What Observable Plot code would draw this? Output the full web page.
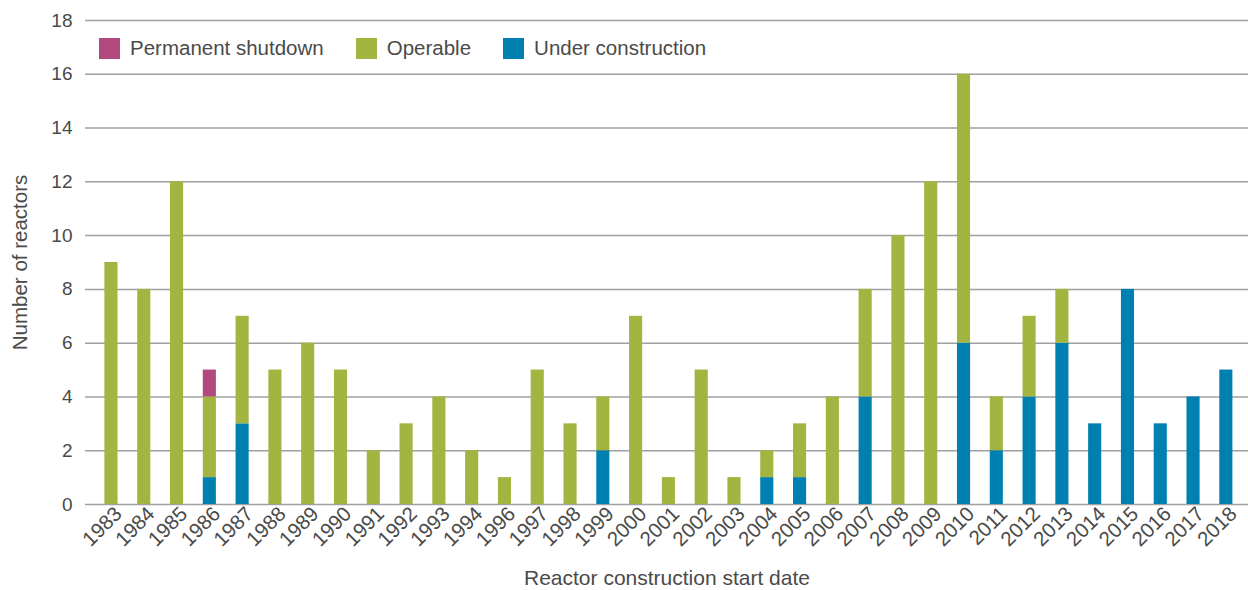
<!DOCTYPE html>
<html>
<head>
<meta charset="utf-8">
<script src="https://cdn.jsdelivr.net/npm/d3@7"></script>
<script src="https://cdn.jsdelivr.net/npm/@observablehq/plot@0.6"></script>
<style>
  html, body { margin: 0; padding: 0; background: #fff; }
  #wrap { position: relative; width: 1248px; height: 590px; font-family: "Liberation Sans", Arial, sans-serif; color: #4a4a4a; }
  #legend { position: absolute; left: 99px; top: 36px; display: flex; align-items: center; font-size: 20.5px; }
  #legend .item { display: flex; align-items: center; margin-right: 32px; }
  #legend .sw { width: 21px; height: 21px; margin-right: 10px; }
  svg text { fill: #4a4a4a; }
</style>
</head>
<body>
<div id="wrap"><div id="legend"></div></div>
<script>
const years = ["1983","1984","1985","1986","1987","1988","1989","1990","1991","1992","1993","1994","1996","1997","1998","1999","2000","2001","2002","2003","2004","2005","2006","2007","2008","2009","2010","2011","2012","2013","2014","2015","2016","2017","2018"];
const underConstruction = [0,0,0,1,3,0,0,0,0,0,0,0,0,0,0,2,0,0,0,0,1,1,0,4,0,0,6,2,4,6,3,8,3,4,5];
const operable =          [9,8,12,3,4,5,6,5,2,3,4,2,1,5,3,2,7,1,5,1,1,2,4,4,10,12,10,2,3,2,0,0,0,0,0];
const shutdown =          [0,0,0,1,0,0,0,0,0,0,0,0,0,0,0,0,0,0,0,0,0,0,0,0,0,0,0,0,0,0,0,0,0,0,0];
const statuses = ["Under construction", "Operable", "Permanent shutdown"];
const colors = ["#0080b0", "#a3b441", "#b04a7e"];
const yTicks = [0,2,4,6,8,10,12,14,16,18];

const data = [];
years.forEach((y, i) => {
  data.push({year: y, status: statuses[0], value: underConstruction[i]});
  data.push({year: y, status: statuses[1], value: operable[i]});
  data.push({year: y, status: statuses[2], value: shutdown[i]});
});

const chart = Plot.plot({
  width: 1248,
  height: 590,
  marginLeft: 85,
  marginRight: 0,
  marginTop: 20,
  marginBottom: 86,
  style: {fontFamily: "Liberation Sans, Arial, sans-serif", fontSize: "20px", color: "#4a4a4a", background: "#fff"},
  x: {domain: years, range: [104.4, 1232.4], paddingInner: 0.6, paddingOuter: 0, round: false},
  y: {domain: [0, 18]},
  color: {domain: statuses, range: colors},
  marks: [
    Plot.gridY(yTicks, {stroke: "#a0a0a0", strokeOpacity: 1, strokeWidth: 1.5}),
    Plot.barY(data, {x: "year", y: "value", fill: "status", order: statuses, insetLeft: 0, insetRight: 0}),
    Plot.axisY(yTicks, {tickSize: 0, tickPadding: 13, fontSize: 19, label: null}),
    Plot.axisX({tickSize: 0, tickPadding: 5, tickRotate: -45, fontSize: 20.5, dx: 7, dy: 1, label: null}),
    Plot.text(["Number of reactors"], {frameAnchor: "left", rotate: -90, dx: -65, fontSize: 20.5, textAnchor: "middle"}),
    Plot.text(["Reactor construction start date"], {frameAnchor: "bottom", dy: 80, fontSize: 21, textAnchor: "middle"})
  ]
});
document.getElementById("wrap").prepend(chart);

const legendOrder = [2, 1, 0];
const legend = document.getElementById("legend");
legendOrder.forEach(i => {
  const item = document.createElement("div");
  item.className = "item";
  item.innerHTML = `<div class="sw" style="background:${colors[i]}"></div><span>${statuses[i]}</span>`;
  legend.appendChild(item);
});
</script>
</body>
</html>
